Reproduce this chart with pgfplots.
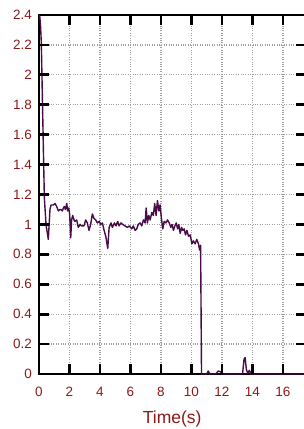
\documentclass[border=0pt]{standalone}
\usepackage{fontspec}
\setmainfont{Liberation Sans}
\usepackage{pgfplots}
\pgfplotsset{compat=1.18}
\definecolor{lab}{RGB}{140,25,25}
\definecolor{trace}{RGB}{72,12,72}
\begin{document}
\begin{tikzpicture}
\path[use as bounding box] (-39pt,-55pt) rectangle (265pt,374pt);
\begin{axis}[
  at={(0,0)}, anchor=south west,
  scale only axis, width=266.5pt, height=359pt,
  xmin=0, xmax=17.48, ymin=0, ymax=2.4,
  xtick={0,2,...,16}, ytick={0,0.2,...,2.4},
  major tick length=0pt,
  axis line style={black, line width=2.7pt},
  grid=major,
  major grid style={draw=gray!75, dotted, line width=1.2pt},
  /pgf/number format/assume math mode=true,
  ticklabel style={font=\fontsize{13.5}{15}\selectfont, text=lab},
  yticklabel style={inner sep=0pt, anchor=east, xshift=-7pt},
  xticklabel style={inner sep=0pt, anchor=north, yshift=-13pt},
  xlabel={Time(s)},
  xlabel style={font=\fontsize{17.5}{20}\selectfont, text=lab, at={(axis description cs:0.5,0)}, anchor=north, inner sep=0pt, yshift=-37pt},
  after end axis/.code={
    \foreach \xx in {2,4,...,16} {
      \draw[black, line width=2.7pt] (axis cs:\xx,0) -- ++(0,10pt);
      \draw[black, line width=2.7pt] (axis cs:\xx,2.4) -- ++(0,-10pt);
    }
    \foreach \yy in {0.2,0.4,0.6,0.8,1.0,1.2,1.4,1.6,1.8,2.0,2.2} {
      \draw[black, line width=2.7pt] (axis cs:0,\yy) -- ++(10pt,0);
      \draw[black, line width=2.7pt] (axis cs:17.48,\yy) -- ++(-10pt,0);
    }
  },
]
\addplot[trace, line width=1.4pt, line join=round] coordinates {
(0,2.40) (0.05,2.39) (0.1,2.33) (0.15,2.22) (0.25,1.70) (0.35,1.18) (0.46,1.0) (0.61,0.90)
(0.72,1.10) (0.79,1.13) (0.94,1.13) (1.05,1.14) (1.16,1.12) (1.27,1.09) (1.38,1.10) (1.44,1.10)
(1.53,1.09) (1.60,1.11) (1.66,1.12) (1.73,1.10) (1.82,1.14) (1.88,1.09) (1.95,1.11) (2.01,1.07)
(2.08,0.91) (2.14,1.03) (2.21,1.06) (2.30,1.03) (2.36,1.02) (2.47,1.03) (2.58,0.98) (2.69,1.00)
(2.80,0.99) (2.95,0.99) (3.06,1.03) (3.17,1.01) (3.28,0.96) (3.39,1.00) (3.50,1.07) (3.61,1.04)
(3.72,1.03) (3.83,1.01) (3.94,1.02) (4.05,1.00) (4.16,1.01) (4.27,0.96) (4.38,0.92) (4.51,0.84)
(4.60,0.98) (4.73,1.01) (4.81,0.98) (4.95,1.01) (5.05,0.99) (5.16,1.02) (5.25,0.99) (5.38,1.01)
(5.49,1.00) (5.64,0.99) (5.80,0.98) (5.93,0.99) (6.08,0.97) (6.19,0.99) (6.30,0.96) (6.41,0.97)
(6.51,1.00) (6.63,1.01) (6.74,0.99) (6.85,1.03) (6.96,1.01) (7.03,1.11) (7.11,1.01) (7.20,1.06)
(7.29,1.03) (7.40,1.08) (7.50,1.06) (7.59,1.14) (7.68,1.06) (7.77,1.16) (7.86,1.09) (7.94,1.13)
(8.03,1.04) (8.12,0.97) (8.21,1.02) (8.32,1.01) (8.43,1.03) (8.54,1.01) (8.65,0.98) (8.73,1.00)
(8.82,0.96) (8.91,0.99) (9.00,1.01) (9.09,0.97) (9.17,1.00) (9.26,0.94) (9.35,0.98) (9.43,0.96)
(9.52,0.97) (9.61,0.93) (9.70,0.96) (9.81,0.92) (9.92,0.93) (10.03,0.87) (10.13,0.89) (10.24,0.87)
(10.35,0.90) (10.46,0.87) (10.53,0.83) (10.60,0.86) (10.66,0.0)
(11.0,0.0) (11.1,0.02) (11.2,0.0) (11.6,0.0) (11.75,0.02) (11.9,0.015) (12.0,0.0)
(13.35,0.0) (13.45,0.10) (13.52,0.11) (13.6,0.03) (13.7,0.005) (13.8,0.025) (13.9,0.0)
(17.48,0.0)
};
\end{axis}
\end{tikzpicture}
\end{document}
